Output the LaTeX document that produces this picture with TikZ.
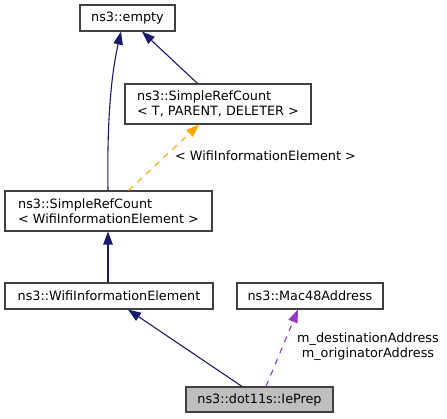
\documentclass[tikz,border=0pt]{standalone}
\usepackage{fontspec}
\setmainfont{DejaVu Sans}
\usetikzlibrary{arrows.meta,calc}
\definecolor{navyc}{HTML}{191970}
\definecolor{orangec}{HTML}{FFA500}
\definecolor{purplec}{HTML}{9A32CD}
\definecolor{borderc}{HTML}{404040}
\definecolor{grayfill}{HTML}{BFBFBF}
\tikzset{
  cls/.style={draw=borderc, line width=1.1pt, fill=white, inner sep=0pt, align=left,
    font=\fontsize{12.8}{15}\selectfont},
  inh/.style={navyc, line width=1.1pt, -{Triangle[length=13pt,width=9.5pt]}},
  tmpl/.style={orangec, line width=1.1pt, dash pattern=on 6pt off 6pt, -{Triangle[length=13pt,width=9.5pt]}},
  usage/.style={purplec, line width=1.1pt, dash pattern=on 6pt off 6pt, -{Triangle[length=13pt,width=9.5pt]}},
  lbl/.style={inner sep=0pt, font=\fontsize{12.8}{15}\selectfont}
}
\begin{document}
\begin{tikzpicture}[x=1pt,y=-1pt]
\useasboundingbox (0,0) rectangle (447,419);
\node[cls, minimum width=95pt, minimum height=26pt] (empty) at (127.5,18) {ns3::empty};
\node[cls, minimum width=186pt, minimum height=40pt] (srct) at (218,104) {ns3::SimpleRefCount\\< T, PARENT, DELETER >};
\node[cls, minimum width=207pt, minimum height=40pt] (srcw) at (108.5,211) {ns3::SimpleRefCount\\< WifiInformationElement >};
\node[cls, minimum width=208pt, minimum height=26pt] (wie) at (109,296) {ns3::WifiInformationElement};
\node[cls, minimum width=146pt, minimum height=26pt] (mac) at (310,296) {ns3::Mac48Address};
\node[cls, fill=grayfill, minimum width=147pt, minimum height=25pt] (iep) at (259.5,399.5) {ns3::dot11s::IePrep};

\draw[inh] ([xshift=-0.5pt]srcw.north) .. controls (107,130) and (110,80) .. ([xshift=-6.5pt]empty.south);
\draw[inh] ([xshift=-20.5pt]srct.north) -- ([xshift=14.5pt]empty.south);
\draw[tmpl] ([xshift=20pt]srcw.north) -- ([xshift=-19pt]srct.south);
\node[lbl, anchor=west] (tl) at (175,156) {< WifiInformationElement >};
\draw[inh] ([xshift=-1pt]wie.north) -- ([xshift=-0.5pt]srcw.south);
\draw[inh] ([xshift=-17.5pt]iep.north) -- ([xshift=19pt]wie.south);
\draw[usage] ([xshift=6.5pt]iep.north) -- ([xshift=-12pt]mac.south);
\node[lbl, align=center] (ul) at (368,346.5) {m\_destinationAddress\\m\_originatorAddress};
\end{tikzpicture}
\end{document}
